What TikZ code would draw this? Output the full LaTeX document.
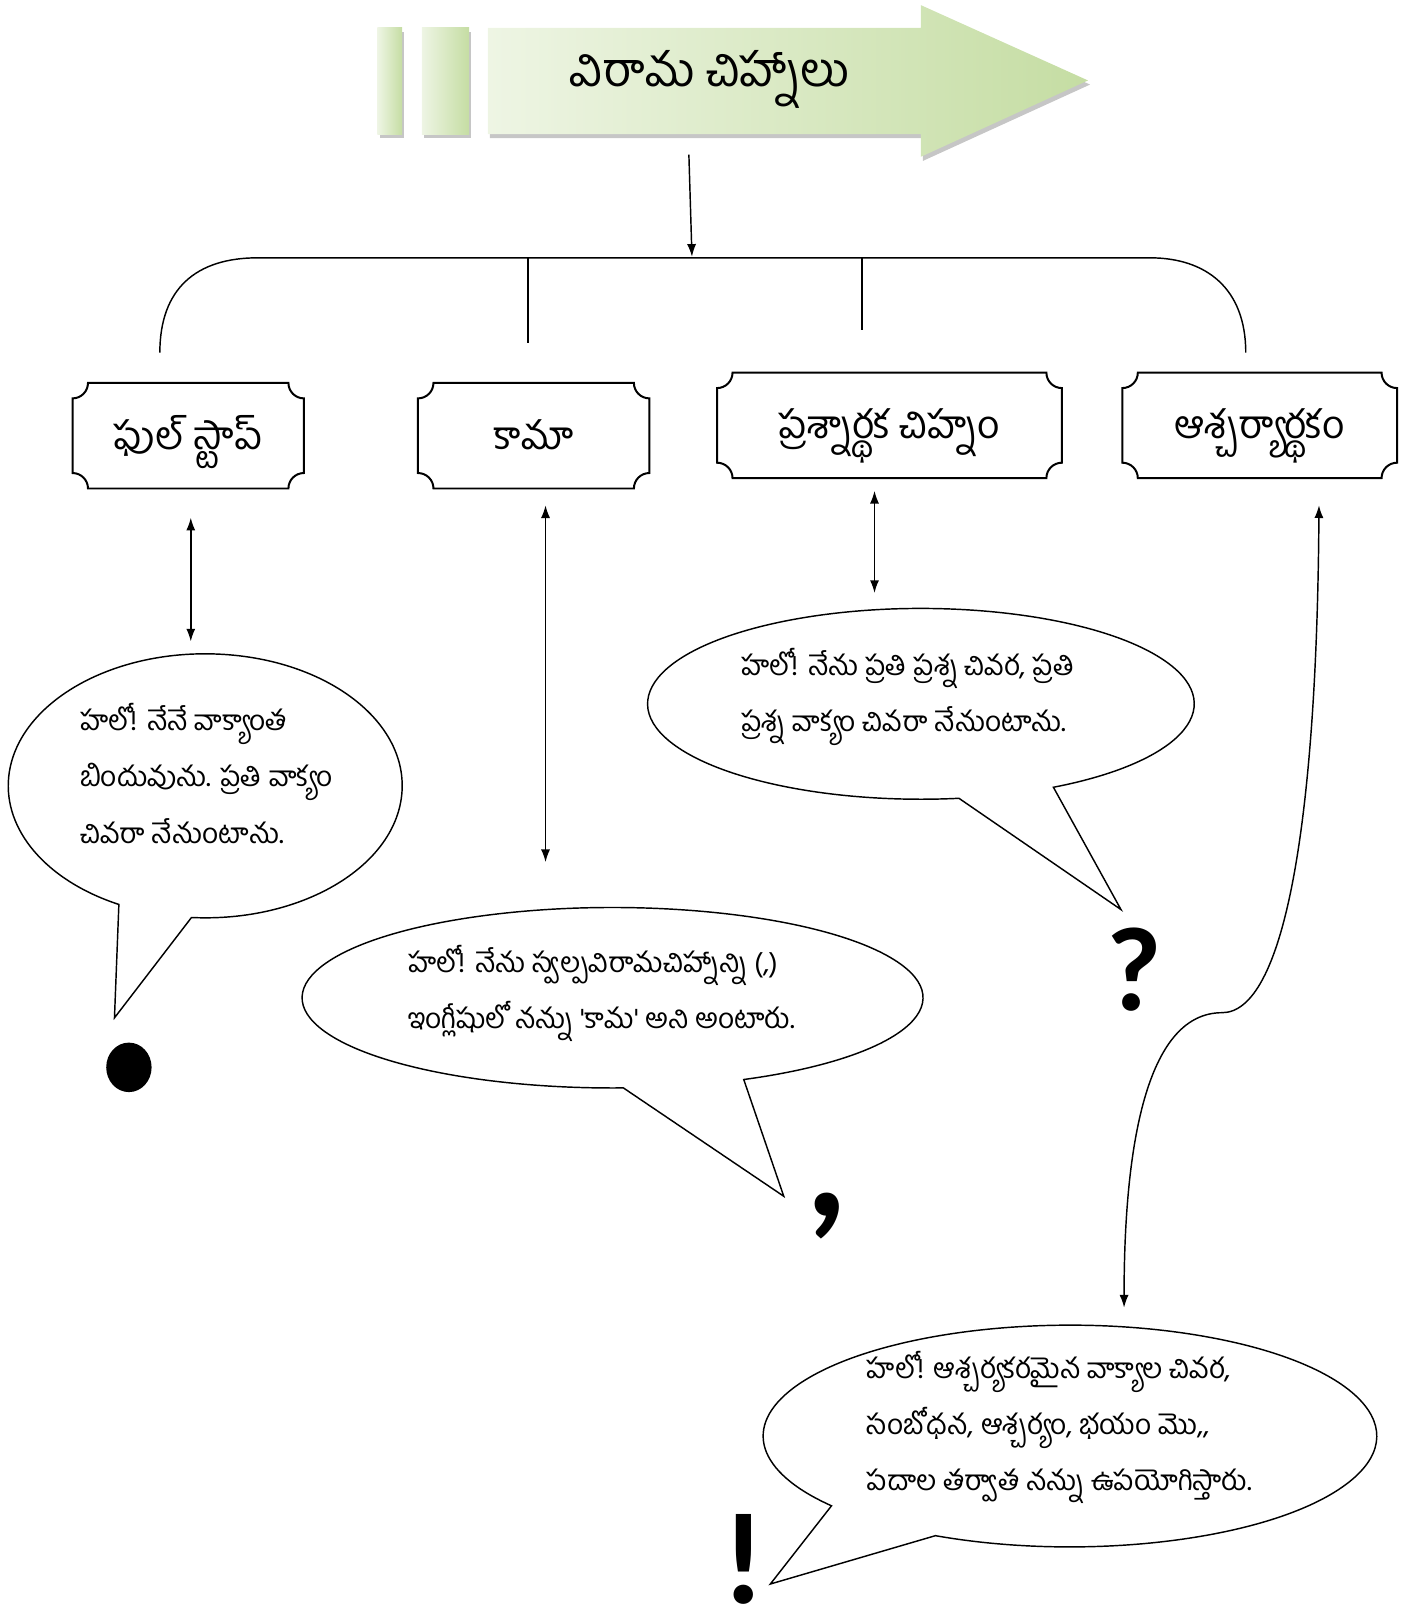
\documentclass[tikz,border=0pt]{standalone}
\usepackage{fontspec}
\newfontfamily\telugu[Script=Telugu]{Hind Guntur}
\newfontfamily\marksfont{Carlito}
\usetikzlibrary{arrows.meta,calc}
\definecolor{arrowlight}{RGB}{238,245,228}
\definecolor{arrowdark}{RGB}{197,221,163}
% box with hollow corners round a named node
\newcommand\plaque[1]{%
  \draw[line width=1.1pt] ($(#1.north west)+(15,0)$) -- ($(#1.north east)+(-15,0)$)
    arc[start angle=180,end angle=270,radius=15]
    -- ($(#1.south east)+(0,15)$) arc[start angle=90,end angle=180,radius=15]
    -- ($(#1.south west)+(15,0)$) arc[start angle=0,end angle=90,radius=15]
    -- ($(#1.north west)+(0,-15)$) arc[start angle=270,end angle=360,radius=15] -- cycle;}

\begin{document}
\begin{tikzpicture}[x=0.02cm,y=0.02cm,line width=0.8pt,>={Latex[length=7pt,width=5pt]},
    boxtext/.style={font=\telugu\fontsize{21.5}{26}\selectfont,minimum height=2.02cm,inner sep=0pt,
      text height=18pt,text depth=3.2pt},
    bubbletext/.style={font=\telugu\fontsize{15.5}{31}\selectfont,align=left,anchor=west,inner sep=0pt},
    bigmark/.style={font=\marksfont\bfseries,anchor=base,inner sep=0pt},
    greenfill/.style={left color=arrowlight,right color=arrowdark}]
  \useasboundingbox (0,0) rectangle (1370,-1568);

  % Title arrow with its shadow
  \begin{scope}[shift={(2,-4)},gray!45]
    \fill (366,-27) rectangle (390,-130);
    \fill (409,-27) rectangle (455,-130);
    \fill (473,-27) -- (893,-27) -- (893,-5) -- (1055,-78) -- (893,-152) -- (893,-130) -- (473,-130) -- cycle;
  \end{scope}
  \shade[greenfill] (366,-27) rectangle (390,-130);
  \shade[greenfill] (409,-27) rectangle (455,-130);
  \shade[greenfill] (473,-27) -- (893,-27) -- (893,-5) -- (1055,-78) -- (893,-152) -- (893,-130) -- (473,-130) -- cycle;
  \node[font=\telugu\fontsize{26}{30}\selectfont,anchor=base,inner sep=0pt] (title) at (688,-84) {విరామ చిహ్నాలు};

  % Arrow down to the brace
  \coordinate (titlefoot) at (668,-150);
  \coordinate (bracetop) at (671,-249);
  \draw[->] (titlefoot) -- (bracetop);

  % Brace over the four boxes
  \draw (155,-342) .. controls (155,-280) and (190,-250) .. (250,-250) -- (1115,-250)
    .. controls (1170,-250) and (1208,-280) .. (1208,-342);
  \draw (512,-250) -- (512,-333);
  \draw (836,-250) -- (836,-320);

  % The four boxes
  \node[boxtext,minimum width=4.46cm] (fullstop) at (182.5,-422.5) {ఫుల్ స్టాప్};
  \plaque{fullstop}
  \node[boxtext,minimum width=4.46cm] (comma) at (517.5,-422.5) {కామా};
  \plaque{comma}
  \node[boxtext,minimum width=6.66cm] (question) at (862.5,-412.5) {ప్రశ్నార్థక చిహ్నం};
  \plaque{question}
  \node[boxtext,minimum width=5.3cm] (exclaim) at (1221.5,-412.5) {ఆశ్చర్యార్థకం};
  \plaque{exclaim}

  % Speech bubbles
  \draw ($(199,-762)+(266:191 and 128)$) arc[start angle=266,end angle=604,x radius=191,y radius=128]
    -- (111,-987) -- cycle;
  \draw ($(594,-967.5)+(295:301 and 87.5)$) arc[start angle=295,end angle=632,x radius=301,y radius=87.5]
    -- (760,-1160) -- cycle;
  \draw ($(893,-682.5)+(299:265 and 92.5)$) arc[start angle=299,end angle=638,x radius=265,y radius=92.5]
    -- (1087,-882) -- cycle;
  \draw ($(1037.5,-1392.5)+(244:297.5 and 107.5)$) arc[start angle=244,end angle=579,x radius=297.5,y radius=107.5]
    -- (747,-1536) -- cycle;

  \node[bubbletext] (fstext) at (77,-750) {హలో! నేనే వాక్యాంత\\బిందువును. ప్రతి వాక్యం\\చివరా నేనుంటాను.};
  \node[bubbletext] (qtext) at (718,-676) {హలో! నేను ప్రతి ప్రశ్న చివర, ప్రతి\\ప్రశ్న వాక్యం చివరా నేనుంటాను.};
  \node[bubbletext] (ctext) at (395,-963) {హలో! నేను స్వల్పవిరామచిహ్నాన్ని (,)\\ఇంగ్లీషులో నన్ను 'కామ' అని అంటారు.};
  \node[bubbletext] (etext) at (840,-1384) {హలో! ఆశ్చర్యకరమైన వాక్యాల చివర,\\సంబోధన, ఆశ్చర్యం, భయం మొ,,\\పదాల తర్వాత నన్ను ఉపయోగిస్తారు.};

  % The marks themselves
  \fill (125,-1035) ellipse (22 and 24);
  \node[bigmark,font=\marksfont\bfseries\fontsize{92}{96}\selectfont] (commamark) at (802,-1180) {,};
  \node[bigmark,font=\marksfont\bfseries\fontsize{66}{70}\selectfont] (qmark) at (1100,-980) {?};
  \node[bigmark,font=\marksfont\bfseries\fontsize{72}{76}\selectfont] (emark) at (721,-1555) {!};

  % Double arrows from boxes to bubbles
  \coordinate (fsup) at (185,-502);
  \coordinate (fsdown) at (185,-622);
  \coordinate (cup) at (529,-490);
  \coordinate (cdown) at (529,-836);
  \coordinate (qup) at (848,-476);
  \coordinate (qdown) at (848,-575);
  \coordinate (eup) at (1279,-490);
  \coordinate (edown) at (1090,-1268);
  \draw[<->] (fsup) -- (fsdown);
  \draw[<->] (cup) -- (cdown);
  \draw[<->] (qup) -- (qdown);
  \draw[<->] (eup) .. controls (1277,-800) and (1245,-982) .. (1185,-982)
    .. controls (1115,-982) and (1090,-1100) .. (edown);
\end{tikzpicture}
\end{document}
